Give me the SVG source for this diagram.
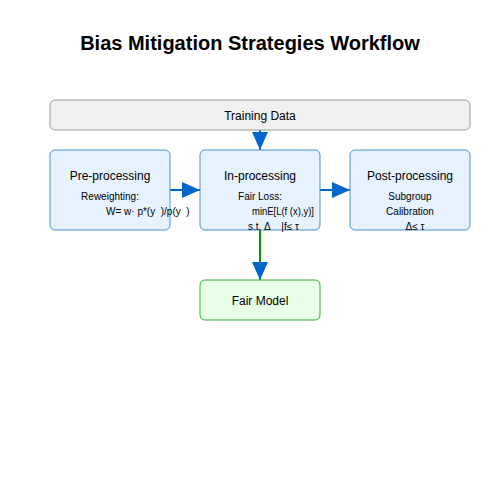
<svg xmlns="http://www.w3.org/2000/svg" width="500" height="500" viewBox="0 0 500 500">
<defs>
<style>
text{font-family:"Liberation Sans",Arial,sans-serif;fill:#000}
.title{font-size:20px;font-weight:bold;text-anchor:middle}
.h{font-size:12px;text-anchor:middle}
.s{font-size:10px;text-anchor:middle}
.l{font-size:10px;text-anchor:start;white-space:pre}
.box{fill:#e6f2ff;stroke:#4a90d9;stroke-width:1}
.edge{stroke:#0066cc;stroke-width:2;fill:none}
</style>
<marker id="arr" viewBox="0 0 10 10" refX="10" refY="5" markerWidth="9" markerHeight="8" markerUnits="strokeWidth" orient="auto" preserveAspectRatio="none">
<path d="M0,0 L10,5 L0,10 z" fill="#0066cc"/>
</marker>
</defs>
<rect width="500" height="500" fill="#fff"/>
<text class="title" x="250" y="50">Bias Mitigation Strategies Workflow</text>
<g id="connectors">
<line class="edge" x1="260" y1="130" x2="260" y2="150" marker-end="url(#arr)"/>
<line class="edge" x1="170" y1="190" x2="200" y2="190" marker-end="url(#arr)"/>
<line class="edge" x1="320" y1="190" x2="350" y2="190" marker-end="url(#arr)"/>
<line class="edge" x1="260" y1="230" x2="260" y2="280" style="stroke:#009900" marker-end="url(#arr)"/>
</g>
<g id="training-data">
<rect x="50" y="100" width="420" height="30" rx="5" fill="#f0f0f0" stroke="#999" stroke-width="1"/>
<text class="h" x="260" y="120">Training Data</text>
</g>
<g id="pre-processing">
<rect class="box" x="50" y="150" width="120" height="80" rx="5"/>
<text class="h" x="110" y="180">Pre-processing</text>
<text class="s" x="110" y="200">Reweighting:</text>
<text class="l" x="106" y="215" xml:space="preserve">W= w· p*(y  )/p(y  )</text>
</g>
<g id="in-processing">
<rect class="box" x="200" y="150" width="120" height="80" rx="5"/>
<text class="h" x="260" y="180">In-processing</text>
<text class="s" x="260" y="200">Fair Loss:</text>
<text class="l" x="252" y="215" textLength="62" lengthAdjust="spacingAndGlyphs">minE[L(f (x),y)]</text>
<text class="l" x="248" y="230" xml:space="preserve">s.t. Δ    |f≤ τ</text>
</g>
<g id="post-processing">
<rect class="box" x="350" y="150" width="120" height="80" rx="5"/>
<text class="h" x="410" y="180">Post-processing</text>
<text class="s" x="410" y="200">Subgroup</text>
<text class="s" x="410" y="215">Calibration</text>
<text class="s" x="415" y="230">Δ≤ τ</text>
</g>
<g id="fair-model">
<rect x="200" y="280" width="120" height="40" rx="5" fill="#e6ffe6" stroke="#33aa33" stroke-width="1"/>
<text class="h" x="260" y="305">Fair Model</text>
</g>
</svg>
